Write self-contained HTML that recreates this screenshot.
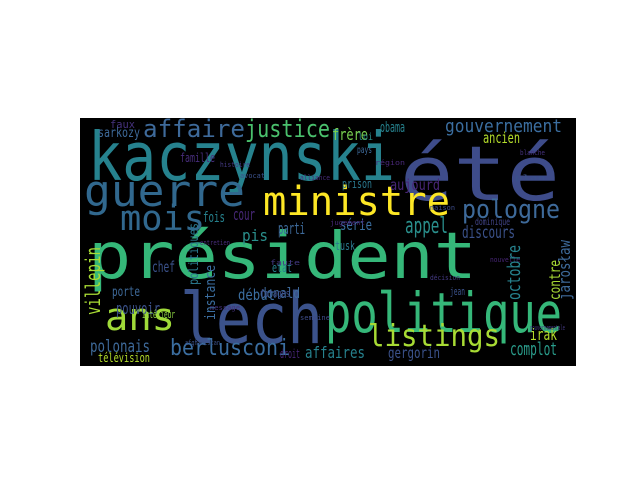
<!DOCTYPE html>
<html><head><meta charset="utf-8"><style>
html,body{margin:0;padding:0;background:#fff;}
svg text{font-family:"DejaVu Sans Mono","Liberation Mono",monospace;}
</style></head><body>
<svg width="640" height="480" xmlns="http://www.w3.org/2000/svg">
<rect x="0" y="0" width="640" height="480" fill="#ffffff"/>
<rect x="80" y="118" width="496" height="248" fill="#000000"/>
<g id="words"></g>
</svg>
<script>
const words = ["kaczynski","été","président","lech","politique","ministre","guerre","mois","affaire","justice","ans","listings","pologne","berlusconi","gouvernement","appel","discours","série","polonais","complot","gergorin","affaires","chef","irak","obama","ancien","frère","prison","aujourd","faux","sarkozy","famille","cour","fois","parti","pis","etat","début","donald","forages","pouvoir","porte","intérieur","télévision","tusk","droit","dominique","jean","loi","pays","histoire","afghanistan","jugement","gouvernementale","blanche","maison","avocat","alliance","nouvelle","décision","semaine","message","région","plan","faute","entretien"];
const xs = [88,400,88,180,325,263,84,120,143,245,105,368,462,170,445,405,462,340,90,510,388,305,152,530,380,483,332,342,390,110,98,180,233,203,278,242,272,238,260,260,116,112,142,98,335,280,475,450,358,357,220,185,330,530,520,430,240,300,490,430,300,210,375,515,270,200];
const ys = [180,200,278,343,332,215,206,230,137,137,330,346,218,355,132,233,238,230,352,355,358,358,272,340,132,143,140,188,190,128,137,162,220,222,234,241,272,300,298,297,314,296,318,362,250,358,225,295,140,153,167,345,225,330,155,210,178,180,262,280,320,310,165,180,265,245];
const sizes = [67,76,64,70,55,40,44,35,24,24,38,30,26,22,18,22,17,15,17,18,15,16,15,16,14,15,16,12,15,11,13,12,16,14,16,16,12,15,14,11,16,13,11,12,12,12,10,11,10,10,7,7,7,7,7,7,7,7,7,7,7,7,7,7,7,7];
const lens = [307,160,389,143,237,187,161,85,102,85,70,132,98,120,117,43,53,32,60,47,52,60,23,27,25,37,36,30,50,25,42,35,22,22,27,26,20,37,40,30,44,28,33,52,20,20,35,15,15,15,30,35,35,35,25,25,25,30,30,30,30,30,30,30,30,30];
const colors = ["#26828e","#3e4c8a","#35b779","#3b528b","#35b779","#fde725","#31688e","#31688e","#3e6a9a","#4ac16d","#a0da39","#a8db34","#3e6a9a","#3b6ea0","#3b6ea0","#2a8f8c","#3b528b","#3b6ea0","#3e6a9a","#2a9d8c","#3b528b","#26828e","#3b528b","#b5de2b","#26828e","#b5de2b","#7ad151","#2a788e","#482677","#46327e","#3e6a9a","#472d7b","#482878","#26828e","#3e6a9a","#2a8f8c","#26828e","#3b6ea0","#3e6a9a","#3e4c8a","#3b528b","#3e6a9a","#90d743","#b5de2b","#2a788e","#482677","#414487","#3b528b","#2a8f8c","#3e6a9a","#443a83","#3b528b","#482878","#443a83","#46327e","#3e4c8a","#3b528b","#472d7b","#482677","#443a83","#3e4c8a","#46327e","#482878","#3b528b","#443a83","#472d7b"];
const vWords = ["villepin","octobre","jarosław","instance","contre","politiques"];
const vxs = [100,520,570,215,560,198];
const vys = [315,300,300,320,300,285];
const vsizes = [20,18,16,14,15,13];
const vlens = [68,55,60,55,40,62];
const vcolors = ["#a8db34","#26828e","#3e6a9a","#3b6ea0","#a8db34","#2a788e"];

const g = document.getElementById('words');
const NS = "http://www.w3.org/2000/svg";
for (let i = 0; i < words.length; i++) {
  const t = document.createElementNS(NS, 'text');
  t.setAttribute('x', xs[i]); t.setAttribute('y', ys[i]);
  t.setAttribute('font-size', sizes[i]); t.setAttribute('fill', colors[i]);
  t.setAttribute('textLength', lens[i]); t.setAttribute('lengthAdjust', 'spacingAndGlyphs');
  t.textContent = words[i];
  
  
  g.appendChild(t);
}
for (let i = 0; i < vWords.length; i++) {
  const t = document.createElementNS(NS, 'text');
  t.setAttribute('x', 0); t.setAttribute('y', 0);
  t.setAttribute('transform', 'translate(' + vxs[i] + ',' + vys[i] + ') rotate(-90)');
  t.setAttribute('font-size', vsizes[i]); t.setAttribute('fill', vcolors[i]);
  t.setAttribute('textLength', vlens[i]); t.setAttribute('lengthAdjust', 'spacingAndGlyphs');
  t.textContent = vWords[i];
  
  
  g.appendChild(t);
}
</script>
</body></html>
